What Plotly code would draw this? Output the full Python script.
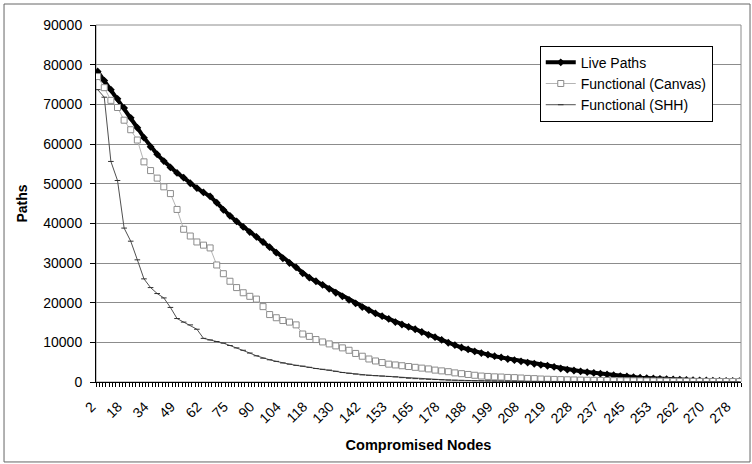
import plotly.graph_objects as go

# Tick labels (Compromised Nodes) shown every 8th category
tick_labels = ["2", "18", "34", "49", "62", "75", "90", "104", "118", "130", "142",
               "153", "165", "178", "188", "199", "208", "219", "228", "237", "245",
               "253", "262", "270", "278"]
n_categories = 195
# category positions of the sampled points (every second category)
cat_idx = list(range(0, 195, 2))

live_paths = [
    78300, 76000, 73700, 71400, 69100, 66600, 64100, 61600, 59300, 57400,
    55700, 54100, 52700, 51500, 50100, 48900, 47800, 46800, 45200, 43400,
    41900, 40500, 39100, 37800, 36600, 35300, 34000, 32600, 31200, 30000,
    28900, 27400, 26300, 25400, 24500, 23500, 22500, 21600, 20700, 19800,
    18900, 18100, 17300, 16600, 15900, 15100, 14500, 13900, 13300, 12600,
    11900, 11300, 10600, 9900, 9300, 8700, 8200, 7700, 7300, 6900,
    6500, 6200, 5800, 5500, 5200, 4900, 4600, 4300, 4100, 3800,
    3400, 3100, 2900, 2700, 2500, 2300, 2100, 1900, 1700, 1500,
    1400, 1250, 1100, 1000, 900, 800, 700, 650, 600, 520,
    460, 420, 380, 340, 300, 270, 250, 230]

functional_canvas = [
    77000, 74200, 71000, 69200, 66000, 63600, 61000, 55500, 53300, 51400,
    49200, 47500, 43500, 38500, 36800, 35300, 34500, 33800, 29500, 27300,
    25400, 23800, 22500, 21600, 20900, 19000, 17000, 16200, 15500, 15100,
    14400, 12100, 11500, 10700, 10100, 9600, 9100, 8600, 8000, 7200,
    6500, 5800, 5300, 4900, 4500, 4300, 4100, 3900, 3700, 3500,
    3300, 3000, 2800, 2600, 2300, 2100, 1900, 1700, 1500, 1400,
    1300, 1250, 1150, 1100, 1000, 900, 850, 750, 700, 650,
    600, 560, 520, 480, 450, 420, 400, 380, 350, 330,
    310, 300, 280, 260, 250, 230, 220, 200, 190, 180,
    170, 160, 150, 140, 130, 120, 110, 100]

functional_shh = [
    73700, 71800, 55600, 50800, 38800, 35500, 30800, 26000, 23800, 22300,
    21200, 18800, 16000, 15100, 14400, 13300, 11000, 10600, 10200, 9800,
    9200, 8600, 8000, 7300, 6600, 6000, 5600, 5200, 4800, 4500,
    4200, 4000, 3700, 3400, 3200, 3000, 2700, 2400, 2200, 2000,
    1800, 1700, 1600, 1500, 1400, 1300, 1100, 950, 850, 750,
    680, 620, 560, 500, 450, 400, 360, 320, 290, 260,
    240, 220, 200, 180, 170, 160, 150, 140, 130, 120,
    110, 100, 95, 90, 85, 80, 75, 70, 65, 60,
    55, 50, 48, 46, 44, 42, 40, 38, 36, 34,
    32, 30, 28, 26, 24, 22, 20, 18]

FONT = "Arial, 'Liberation Sans', sans-serif"

fig = go.Figure()
fig.add_trace(go.Scatter(
    x=cat_idx, y=live_paths, mode="lines+markers", name="Live Paths",
    line=dict(color="black", width=4),
    marker=dict(symbol="diamond", size=6, color="black")))
fig.add_trace(go.Scatter(
    x=cat_idx, y=functional_canvas, mode="lines+markers", name="Functional (Canvas)",
    line=dict(color="#b4b4b4", width=1),
    marker=dict(symbol="square", size=6, color="white",
                line=dict(color="#8c8c8c", width=1))))
fig.add_trace(go.Scatter(
    x=cat_idx, y=functional_shh, mode="lines+markers", name="Functional (SHH)",
    line=dict(color="#505050", width=1),
    marker=dict(symbol="line-ew", size=4, line=dict(color="#303030", width=1))))

fig.update_layout(
    width=752, height=464,
    margin=dict(l=96, r=11, t=25, b=82),
    paper_bgcolor="white", plot_bgcolor="white",
    font=dict(family=FONT, size=14, color="black"),
    showlegend=True,
    legend=dict(x=0.688, y=0.942, xanchor="left", yanchor="top",
                bgcolor="white", bordercolor="black", borderwidth=1,
                font=dict(size=14), tracegroupgap=0),
    shapes=[
        dict(type="rect", xref="paper", yref="paper", x0=0, x1=1, y0=0, y1=1,
             line=dict(color="#8c8c8c", width=1), layer="below"),
        dict(type="rect", xref="paper", yref="paper", x0=-0.1426, x1=1.014,
             y0=-0.224, y1=1.0588, line=dict(color="#666666", width=1)),
    ],
)

fig.update_xaxes(
    range=[-0.5, n_categories - 0.5],
    tickmode="array", tickvals=list(range(0, 193, 8)), ticktext=tick_labels,
    tickangle=-45, ticks="", showgrid=False, zeroline=False,
    showline=True, linecolor="black", linewidth=1,
    tickfont=dict(size=14), ticklabelstandoff=10, ticklabelshift=-6,
    minor=dict(ticks="outside", ticklen=4, tick0=-0.5, dtick=1,
               tickcolor="black", showgrid=False),
    title=dict(text="Compromised Nodes", font=dict(size=14.5, weight="bold"), standoff=14),
)
fig.update_yaxes(
    range=[0, 90000], dtick=10000, tickformat="d",
    showgrid=True, gridcolor="#8c8c8c", gridwidth=1, zeroline=False,
    ticks="outside", ticklen=5, tickcolor="black",
    showline=True, linecolor="black", linewidth=1,
    tickfont=dict(size=14), ticklabelstandoff=5,
    title=dict(text="Paths", font=dict(size=14, weight="bold"), standoff=12),
)

fig.write_html("out.html")
